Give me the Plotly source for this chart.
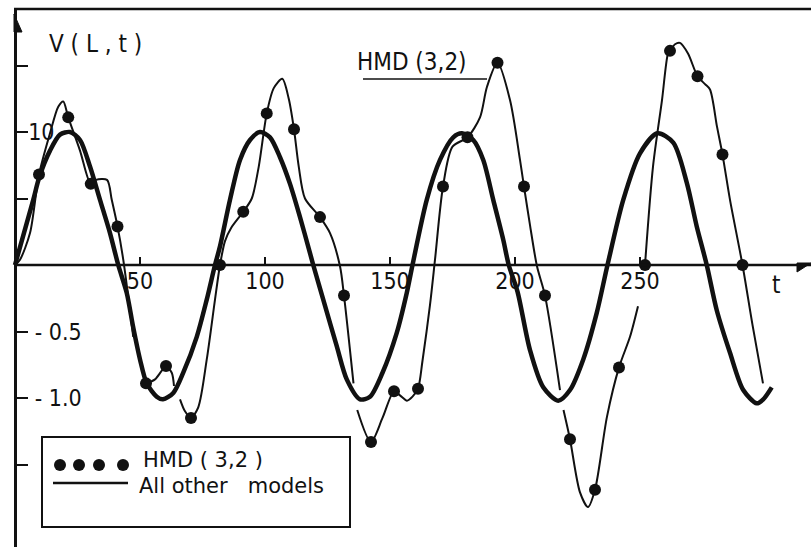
import plotly.graph_objects as go

# ---------------- data ----------------
# "All other models" (thick curve)
thick_t = [0, 7.3, 9.7, 14, 18, 22, 26, 30, 34, 38, 41.3, 44.7, 47.3, 50, 52.7, 56.7, 59.2,
           63.4, 67.3, 72.7, 76.7, 80, 82, 86, 90, 94, 98, 102, 106, 110, 114, 118, 119.3,
           123.3, 128.7, 132.7, 138, 142, 147, 152.7, 156.7, 159, 164.7, 170, 175.3, 178.8,
           183.3, 187.3, 191.3, 195.3, 197.5, 201, 206, 211.3, 217.3, 222, 227.3, 232.7, 237,
           243.3, 250, 257, 263.3, 268.7, 272.7, 276.7, 280.7, 286, 291.3, 296.7, 299.3, 302.7]
thick_v = [0, 0.49, 0.66, 0.86, 0.98, 1.0, 0.94, 0.74, 0.49, 0.24, 0, -0.21, -0.47, -0.71, -0.89, -0.99, -1.01,
           -0.96, -0.81, -0.54, -0.26, 0, 0.14, 0.49, 0.79, 0.94, 1.0, 0.96, 0.81, 0.61, 0.36, 0.09, 0,
           -0.26, -0.61, -0.86, -1.01, -0.99, -0.81, -0.51, -0.21, 0, 0.49, 0.79, 0.96, 0.99,
           0.94, 0.79, 0.49, 0.19, 0, -0.2, -0.64, -0.92, -1.02, -0.94, -0.71, -0.36, 0,
           0.49, 0.84, 0.99, 0.92, 0.62, 0.29, 0, -0.34, -0.66, -0.94, -1.04, -1.01, -0.92]

# HMD (3,2) thin curve (None = break in the drawn line)
hmd_curve_t = [0, 2, 6, 9.6, 14, 17.3, 19.3, 21.3, 26, 30.3, 32.4, 36.8, 38.7, 41, 43.3, 47.3, None,
               52.4, 56, 58.5, 60.4, 62.7, 63.6, None,
               66, 68, 70.4, 73.3, 76.7, 80, 82, 84, 86.5, 91.3, 94.7, 97.5, 100.7, 103.5,
               106.9, 109.5, 111.6, 113.5, 116, 122, 126, 130, 131.6, 135.4, None,
               136.9, 142.4, 147, 151.6, 154, 156.8, 159, 161.2, 163, 166, 168, 171.2, 175, 181, 186,
               188.8, 193, 198, 202, 203.6, 206, 208.8, 212, 218, None,
               219.4, 222, 226, 229.2, 232, 236.8, 241.6, 246, 249.2, None,
               252, 255.2, 258.8, 261.2, 262, 264, 266, 269.2, 273, 276, 278, 280.8, 283, 286, 291, 295, 299.2]
hmd_curve_v = [0, 0.04, 0.24, 0.68, 0.99, 1.19, 1.23, 1.11, 0.86, 0.61, 0.64, 0.64, 0.49, 0.29, 0.04, -0.54, None,
               -0.89, -0.86, -0.8, -0.76, -0.81, -0.91, None,
               -1.01, -1.1, -1.15, -1.07, -0.71, -0.26, 0, 0.18, 0.28, 0.40, 0.50, 0.74, 1.14, 1.33,
               1.40, 1.25, 1.02, 0.74, 0.5, 0.36, 0.24, -0.01, -0.23, -0.89, None,
               -1.09, -1.33, -1.15, -0.95, -0.98, -1.02, -0.99, -0.93, -0.72, -0.3, 0.04, 0.59, 0.89, 0.96, 1.11,
               1.34, 1.52, 1.24, 0.79, 0.59, 0.3, -0.01, -0.23, -0.94, None,
               -1.09, -1.31, -1.71, -1.82, -1.69, -1.14, -0.77, -0.54, -0.31, None,
               0, 0.74, 1.24, 1.59, 1.61, 1.66, 1.67, 1.59, 1.42, 1.36, 1.32, 1.04, 0.83, 0.49, 0, -0.45, -0.89]

# HMD (3,2) dots
hmd_dot_t = [9.6, 21.3, 30.3, 41, 52.4, 60.4, 70.4, 82, 91.3, 100.7, 111.6, 122, 131.6, 142.4, 151.6,
             161.2, 171.2, 181, 193, 203.6, 212, 222, 232, 241.6, 252, 262, 273, 283, 291]
hmd_dot_v = [0.68, 1.11, 0.61, 0.29, -0.89, -0.76, -1.15, 0, 0.40, 1.14, 1.02, 0.36, -0.23, -1.33, -0.95,
             -0.93, 0.59, 0.96, 1.52, 0.59, -0.23, -1.31, -1.69, -0.77, 0, 1.61, 1.42, 0.83, 0]

x_tick_vals = [50, 100, 150, 200, 250]
x_tick_text = ["50", "100", "150", "200", "250"]
y_tick_vals = [1.5, 1.0, 0.5, -0.5, -1.0, -1.5]
y_tick_text = ["", "10", "", "\u00a0- 0.5", "\u00a0- 1.0", ""]

# ---------------- layout geometry ----------------
W, H = 811, 547
MT = 8
PLOT_H = H - MT
X0_PX, X_SCALE = 15, 2.5          # pixel of t=0, pixels per unit t
Y0_PX, Y_SCALE = 265, 133         # pixel of V=0, pixels per unit V
x_range = [-X0_PX / X_SCALE, (W - X0_PX) / X_SCALE]
y_range = [(Y0_PX - H) / Y_SCALE, (Y0_PX - MT) / Y_SCALE]


def px(x):
    return x / W


def py(y):
    return (H - y) / PLOT_H


FONT = "DejaVu Sans Condensed, DejaVu Sans, Arial"
FONT_WIDE = "DejaVu Sans, Arial"
INK = "#111111"

fig = go.Figure()
fig.add_trace(go.Scatter(x=thick_t, y=thick_v, mode="lines",
                         line=dict(color=INK, width=4.5, shape="spline", smoothing=0.8),
                         showlegend=False, hoverinfo="skip"))
fig.add_trace(go.Scatter(x=hmd_curve_t, y=hmd_curve_v, mode="lines", connectgaps=False,
                         line=dict(color=INK, width=2, shape="spline", smoothing=0.8),
                         showlegend=False, hoverinfo="skip"))
fig.add_trace(go.Scatter(x=hmd_dot_t, y=hmd_dot_v, mode="markers",
                         marker=dict(color=INK, size=12), showlegend=False))

shapes = []
# x axis line (from the y axis to the right edge)
shapes.append(dict(type="line", xref="x", yref="y", x0=0, x1=x_range[1], y0=0, y1=0,
                   line=dict(color=INK, width=2.5)))
# top frame line
shapes.append(dict(type="line", xref="paper", yref="paper", x0=px(14), x1=1, y0=py(9), y1=py(9),
                   line=dict(color=INK, width=2.5)))
# arrowheads
shapes.append(dict(type="path", xref="paper", yref="paper",
                   path=f"M {px(14)},{py(14)} L {px(22)},{py(32)} L {px(14)},{py(32)} Z",
                   fillcolor=INK, line=dict(color=INK, width=1)))
shapes.append(dict(type="path", xref="paper", yref="paper",
                   path=f"M {px(797)},{py(263)} L {px(811)},{py(263)} L {px(797)},{py(272)} Z",
                   fillcolor=INK, line=dict(color=INK, width=1)))
# leader line of the HMD label
shapes.append(dict(type="line", xref="paper", yref="paper", x0=px(363), x1=px(487), y0=py(79), y1=py(79),
                   line=dict(color=INK, width=1.5)))
# legend box
shapes.append(dict(type="rect", xref="paper", yref="paper", x0=px(42), x1=px(350), y0=py(527), y1=py(437),
                   line=dict(color=INK, width=2), fillcolor="white", layer="above"))
for cx in [60, 79, 99, 123]:
    shapes.append(dict(type="circle", xref="paper", yref="paper", x0=px(cx - 6), x1=px(cx + 6),
                       y0=py(465 + 6), y1=py(465 - 6), fillcolor=INK, line=dict(color=INK, width=0),
                       layer="above"))
shapes.append(dict(type="line", xref="paper", yref="paper", x0=px(53), x1=px(128), y0=py(483), y1=py(483),
                   line=dict(color=INK, width=2.5), layer="above"))

annotations = [
    dict(text="V ( L , t )", x=px(47), y=py(44), xanchor="left", yanchor="middle", size=24, fam=FONT),
    dict(text="HMD (3,2)", x=px(355), y=py(62), xanchor="left", yanchor="middle", size=24, fam=FONT),
    dict(text="t", x=px(776), y=py(285), xanchor="center", yanchor="middle", size=24, fam=FONT),
    dict(text="HMD ( 3,2 )", x=px(141), y=py(460), xanchor="left", yanchor="middle", size=21, fam=FONT_WIDE),
    dict(text="All other   models", x=px(137), y=py(486), xanchor="left", yanchor="middle", size=21,
         fam=FONT_WIDE),
]
for a in annotations:
    s = a.pop("size")
    f = a.pop("fam")
    a.update(xref="paper", yref="paper", showarrow=False, font=dict(family=f, size=s, color=INK))

fig.update_layout(
    width=W, height=H,
    margin=dict(l=0, r=0, t=MT, b=0, pad=0),
    paper_bgcolor="white", plot_bgcolor="white",
    showlegend=False,
    shapes=shapes,
    annotations=annotations,
    xaxis=dict(range=x_range, anchor="free", position=py(Y0_PX), showgrid=False, zeroline=False,
               showline=False, ticks="inside", ticklen=8, tickwidth=2, tickcolor=INK,
               tickvals=x_tick_vals, ticktext=x_tick_text,
               tickfont=dict(family=FONT, size=23, color=INK)),
    yaxis=dict(range=y_range, anchor="free", position=px(X0_PX), showgrid=False, zeroline=False,
               showline=True, linewidth=2.5, linecolor=INK,
               ticks="inside", ticklen=11, tickwidth=2, tickcolor=INK,
               ticklabelposition="inside", ticklabelstandoff=2,
               tickvals=y_tick_vals, ticktext=y_tick_text,
               tickfont=dict(family=FONT, size=23, color=INK)),
)

fig.write_html("out.html")
